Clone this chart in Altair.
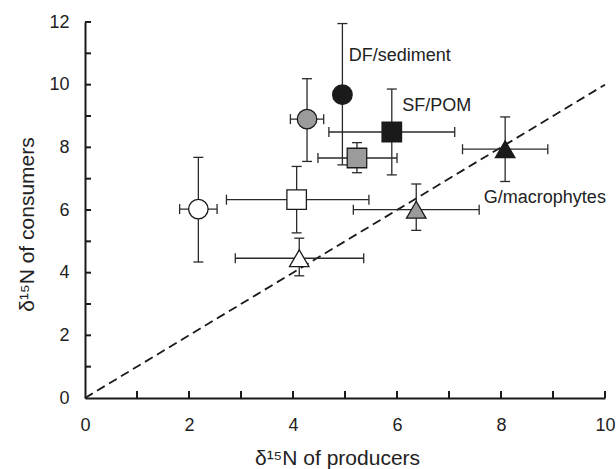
import altair as alt
import pandas as pd

# ---- data ----
shapes = ["circle", "circle", "circle", "square", "square", "square",
          "triangle-up", "triangle-up", "triangle-up"]
fills = ["#ffffff", "#9b9b9b", "#1a1a1a", "#ffffff", "#9b9b9b", "#1a1a1a",
         "#ffffff", "#9b9b9b", "#1a1a1a"]
x_mean = [2.18, 4.27, 4.95, 4.07, 5.23, 5.90, 4.12, 6.37, 8.08]
x_low = [1.82, 3.95, 4.95, 2.72, 4.48, 4.69, 2.89, 5.16, 7.26]
x_high = [2.54, 4.59, 4.95, 5.46, 6.00, 7.11, 5.36, 7.58, 8.90]
y_mean = [6.03, 8.90, 9.68, 6.33, 7.66, 8.49, 4.46, 6.01, 7.94]
y_low = [4.34, 7.55, 7.44, 5.27, 7.19, 7.12, 3.90, 5.35, 6.91]
y_high = [7.68, 10.19, 11.95, 7.39, 8.15, 9.86, 5.10, 6.83, 8.97]

label_text = ["DF/sediment", "SF/POM", "G/macrophytes"]
label_x = [5.07, 6.10, 7.67]
label_y = [10.90, 9.31, 6.38]

diag_x = [0, 10]
diag_y = [0, 10]

x_tick_labels = [0, 2, 4, 6, 8, 10]
y_tick_labels = [0, 2, 4, 6, 8, 10, 12]
x_minor = [1, 2, 3, 4, 5, 6, 7, 8, 9, 10]
y_minor = [1, 2, 3, 4, 5, 6, 7, 8, 9, 10, 11, 12]

XT = "δ¹⁵N of producers"
YT = "δ¹⁵N of consumers"
FONT = "Liberation Sans"
INK = "#1a1a1a"

pts = pd.DataFrame({"shape": shapes, "fill": fills, "x": x_mean, "xl": x_low,
                    "xh": x_high, "y": y_mean, "yl": y_low, "yh": y_high})
hbars = pts[pts["xl"] < pts["xh"]]
vcaps = pd.DataFrame({"cx": x_mean + x_mean, "cy": y_low + y_high})
hcaps = pd.DataFrame({"cx": list(hbars["xl"]) + list(hbars["xh"]),
                      "cy": list(hbars["y"]) + list(hbars["y"])})
labels = pd.DataFrame({"t": label_text, "x": label_x, "y": label_y})
diag = pd.DataFrame({"x": diag_x, "y": diag_y})
xt = pd.DataFrame({"t": x_minor})
yt = pd.DataFrame({"t": y_minor})

xs = alt.Scale(domain=[0, 10], nice=False, zero=False)
ys = alt.Scale(domain=[0, 12], nice=False, zero=False)

x_axis = alt.Axis(values=x_tick_labels, labelPadding=18, labelFlush=False,
                  titleX=252, titleY=60, titleBaseline="middle")
y_axis = alt.Axis(values=y_tick_labels, labelPadding=16, labelFlush=False,
                  titleX=-58, titleY=202, titleAngle=270, titleAlign="center",
                  titleBaseline="middle")

line = alt.Chart(diag).mark_line(strokeDash=[9, 5], color=INK, strokeWidth=1.8).encode(
    x=alt.X("x:Q", scale=xs, axis=x_axis, title=XT),
    y=alt.Y("y:Q", scale=ys, axis=y_axis, title=YT),
)

xticks = alt.Chart(xt).mark_rule(color=INK, strokeWidth=2, y2Offset=-7).encode(
    x=alt.X("t:Q", scale=xs, title=XT),
    y=alt.YDatum(0),
    y2=alt.Y2Datum(0),
)
yticks = alt.Chart(yt).mark_rule(color=INK, strokeWidth=2, x2Offset=6).encode(
    y=alt.Y("t:Q", scale=ys, title=YT),
    x=alt.XDatum(0),
    x2=alt.X2Datum(0),
)

vbar = alt.Chart(pts).mark_rule(color="#2a2a2a", strokeWidth=1.3).encode(
    x=alt.X("x:Q", scale=xs, title=XT),
    y=alt.Y("yl:Q", scale=ys, title=YT),
    y2="yh:Q",
)
hbar = alt.Chart(hbars).mark_rule(color="#2a2a2a", strokeWidth=1.3).encode(
    y=alt.Y("y:Q", scale=ys, title=YT),
    x=alt.X("xl:Q", scale=xs, title=XT),
    x2="xh:Q",
)
vcap = alt.Chart(vcaps).mark_tick(orient="horizontal", size=10, thickness=1.3,
                                  color="#2a2a2a", opacity=1).encode(
    x=alt.X("cx:Q", scale=xs, title=XT),
    y=alt.Y("cy:Q", scale=ys, title=YT),
)
hcap = alt.Chart(hcaps).mark_tick(orient="vertical", size=10, thickness=1.3,
                                  color="#2a2a2a", opacity=1).encode(
    x=alt.X("cx:Q", scale=xs, title=XT),
    y=alt.Y("cy:Q", scale=ys, title=YT),
)
points = alt.Chart(pts).mark_point(filled=True, size=380, stroke=INK,
                                   strokeWidth=1.3, opacity=1).encode(
    x=alt.X("x:Q", scale=xs, title=XT),
    y=alt.Y("y:Q", scale=ys, title=YT),
    shape=alt.Shape("shape:N", scale=None),
    fill=alt.Fill("fill:N", scale=None),
)
texts = alt.Chart(labels).mark_text(align="left", baseline="middle", fontSize=18,
                                    font=FONT, color="#222222").encode(
    x=alt.X("x:Q", scale=xs, title=XT),
    y=alt.Y("y:Q", scale=ys, title=YT),
    text="t:N",
)

chart = alt.layer(line, xticks, yticks, vbar, hbar, vcap, hcap, points, texts).properties(
    width=520, height=376,
    autosize=alt.AutoSizeParams(type="none"),
    padding={"left": 85, "top": 22, "right": 11, "bottom": 71},
).configure(font=FONT).configure_view(stroke=None).configure_axis(
    grid=False, ticks=False, domainColor=INK, domainWidth=2,
    labelFontSize=18, labelColor="#222222", labelFont=FONT,
    titleFontSize=21, titleFontWeight="normal", titleColor="#222222", titleFont=FONT,
)

chart.save("out.html", embed_options={"renderer": "svg", "actions": False})
